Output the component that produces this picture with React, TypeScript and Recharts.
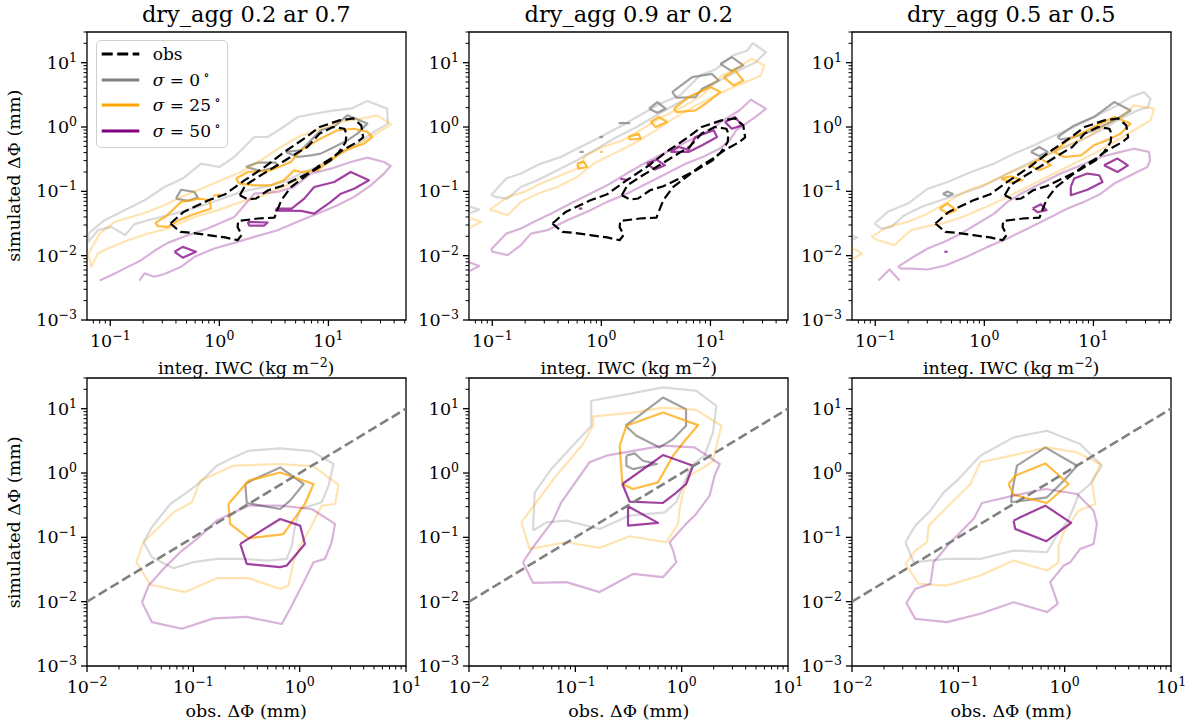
import React from 'react';
import { ComposedChart, Line, XAxis, YAxis, ReferenceArea, Legend } from 'recharts';

type Pt = [number, number];

// --- obs contours (same in all top panels) ---
const obsOuter: Pt[] = [[0.356,0.0316],[0.471,0.0479],[0.794,0.0728],[1.13,0.09],[1.71,0.149],[2.6,0.239],[4.15,0.435],[6.3,0.7],[8.3,1.0],[12.6,1.27],[16.9,1.36],[20,1.06],[20.8,0.69],[18.4,0.585],[13.4,0.435],[10.5,0.323],[7.9,0.239],[6.0,0.167],[4.5,0.115],[3.7,0.0728],[3.3,0.045],[3.2,0.039],[2.26,0.0378],[1.49,0.0347],[1.47,0.028],[1.6,0.0209],[1.47,0.0174],[1.13,0.0192],[0.79,0.0209],[0.56,0.0226],[0.44,0.0234]];
const obsInner: Pt[] = [[1.54,0.087],[1.73,0.124],[2.26,0.167],[3.2,0.239],[4.5,0.342],[6.4,0.49],[8.3,0.79],[11,1.0],[14,0.94],[14.6,0.79],[14.4,0.585],[12.5,0.41],[10.5,0.304],[7.4,0.213],[5.2,0.158],[3.7,0.12],[2.8,0.104],[2.18,0.0775],[1.84,0.0746]];

// --- top left: dry_agg 0.2 ar 0.7 ---
const p1GrayOuter: Pt[] = [[0.063,0.022],[0.0887,0.0356],[0.135,0.051],[0.206,0.0728],[0.314,0.117],[0.462,0.158],[0.68,0.27],[1.0,0.239],[1.37,0.342],[2.09,0.7],[2.77,0.7],[3.66,0.94],[5.2,1.43],[7.4,1.61],[11.3,1.81],[16,1.93],[22.7,2.53],[34.6,1.93],[35,1.13],[26,0.84],[18.4,0.55],[12.1,0.363],[7.9,0.239],[5.6,0.189],[3.9,0.14],[2.58,0.117],[1.58,0.098],[0.97,0.0728],[0.634,0.057],[0.388,0.045],[0.221,0.0356],[0.167,0.0309],[0.137,0.0209],[0.102,0.028],[0.077,0.0249],[0.063,0.0164]];
const p1GrayIn1: Pt[] = [[0.4,0.077],[0.446,0.106],[0.59,0.098],[0.634,0.08],[0.513,0.071]];
const p1GrayIn2: Pt[] = [[1.75,0.239],[2.24,0.279],[3.3,0.279],[3.37,0.239],[2.4,0.207]];
const p1GrayIn3: Pt[] = [[4.07,0.41],[5.6,0.435],[6.9,0.62],[8.5,0.89],[11.3,1.02],[14.9,1.52],[22.7,1.13],[18.4,0.79],[14.9,0.62],[11.3,0.49],[8.5,0.386],[6.9,0.363],[5.2,0.342]];
const p1OrangeOuter: Pt[] = [[0.063,0.0108],[0.08,0.022],[0.11,0.0336],[0.156,0.04],[0.221,0.048],[0.314,0.0608],[0.446,0.082],[0.68,0.11],[1.04,0.149],[1.58,0.2],[2.4,0.304],[3.66,0.49],[5.6,0.74],[8.5,0.94],[13,1.2],[19.8,1.35],[28,1.52],[37.7,1.1],[32.3,0.94],[24.4,0.7],[17.2,0.49],[11.3,0.342],[7.9,0.239],[5.6,0.167],[3.9,0.117],[2.58,0.087],[1.58,0.0686],[0.97,0.051],[0.59,0.04],[0.337,0.0264],[0.221,0.022],[0.145,0.0174],[0.095,0.0129],[0.077,0.0108],[0.067,0.0067]];
const p1OrangeIn1: Pt[] = [[0.258,0.0324],[0.325,0.041],[0.446,0.0686],[0.656,0.077],[0.81,0.0728],[0.84,0.054],[0.55,0.0426],[0.416,0.0348],[0.337,0.028],[0.273,0.0287]];
const p1OrangeIn2: Pt[] = [[1.42,0.158],[1.82,0.2],[2.97,0.212],[4.52,0.286],[5.6,0.435],[7.9,0.62],[12.1,0.89],[17.2,0.94],[22.7,0.84],[25.2,0.7],[21.2,0.55],[13.9,0.435],[10.5,0.304],[7.9,0.212],[5.6,0.2],[4.85,0.212],[3.9,0.149],[2.97,0.124],[2.09,0.124],[1.52,0.132]];
const p1OrangeIn3: Pt[] = [[0.88,0.085],[1.02,0.09]];
const p1PurpleOuter: Pt[] = [[0.08,0.0041],[0.11,0.0053],[0.145,0.0067],[0.192,0.0085],[0.254,0.0119],[0.337,0.0158],[0.513,0.0208],[0.78,0.0264],[1.37,0.04],[2.09,0.092],[3.42,0.098],[4.85,0.117],[6.9,0.189],[10.5,0.225],[16,0.286],[22.7,0.334],[32.3,0.286],[37.2,0.248],[32.3,0.189],[24.4,0.124],[17.2,0.082],[12.1,0.0608],[7.9,0.045],[5.2,0.0336],[3.42,0.0249],[2.09,0.0196],[1.37,0.0158],[0.9,0.0129],[0.59,0.0096],[0.446,0.0067],[0.314,0.0052],[0.254,0.0047],[0.206,0.0053],[0.185,0.0041]];
const p1PurpleIn1: Pt[] = [[0.388,0.0115],[0.462,0.0137],[0.61,0.0115],[0.462,0.0093]];
const p1PurpleIn2: Pt[] = [[1.82,0.0336],[2.77,0.0328],[2.58,0.0294],[1.88,0.0294]];
const p1PurpleIn3: Pt[] = [[3.3,0.054],[4.6,0.054],[6.0,0.077],[7.4,0.117],[11.3,0.14],[16,0.2],[23.5,0.149],[17.2,0.11],[13,0.092],[10.5,0.0686],[7.4,0.045],[5.6,0.0497],[3.3,0.05]];

// --- top middle: dry_agg 0.9 ar 0.2 ---
const p2GrayOuter: Pt[] = [[0.0975,0.087],[0.134,0.158],[0.183,0.189],[0.279,0.27],[0.424,0.342],[0.644,0.49],[0.98,0.7],[1.49,1.02],[2.26,1.52],[3.44,2.3],[5.24,3.1],[8.0,6.3],[11.3,8.0],[16,12.9],[21.9,15.5],[24.4,20.1],[32.2,14.6],[26.1,10.2],[18.4,7.6],[12.1,5.3],[8.0,3.5],[4.9,2.3],[3.2,1.52],[2.11,1.0],[1.39,0.7],[0.91,0.46],[0.6,0.304],[0.395,0.212],[0.26,0.149],[0.183,0.117],[0.138,0.077],[0.108,0.082]];
const p2GrayEdge: Pt[] = [[0.06,0.0587],[0.076,0.052],[0.06,0.045]];
const p2GrayIn1: Pt[] = [[2.74,1.93],[3.26,2.44],[3.88,1.93],[3.26,1.67]];
const p2GrayIn2: Pt[] = [[4.46,3.49],[6.8,5.97],[10.3,6.7],[11.9,5.3],[8.4,3.94],[7.3,2.92],[4.89,2.85]];
const p2GrayIn3: Pt[] = [[12.3,9.6],[15.7,12.2],[20,9.1],[15.7,7.4]];
const p2GrayIn4: Pt[] = [[1.44,1.15],[1.84,1.15]];
const p2GrayIn5: Pt[] = [[0.96,0.7],[1.04,0.7]];
const p2GrayIn6: Pt[] = [[0.63,0.41],[0.69,0.41]];
const p2OrangeOuter: Pt[] = [[0.094,0.051],[0.138,0.082],[0.196,0.098],[0.279,0.132],[0.424,0.178],[0.6,0.225],[0.724,0.363],[1.03,0.49],[1.56,0.62],[2.38,0.94],[3.6,1.43],[5.5,2.04],[8.4,3.1],[12.7,6.3],[18,8.5],[23.9,11.5],[31.1,9.1],[29,6.3],[21.2,5.0],[15,3.94],[10.5,2.92],[6.9,2.04],[4.56,1.35],[3.0,0.84],[1.97,0.55],[1.3,0.386],[0.85,0.27],[0.6,0.167],[0.395,0.117],[0.26,0.092],[0.183,0.0686],[0.138,0.0426],[0.105,0.0497]];
const p2OrangeEdge: Pt[] = [[0.06,0.039],[0.079,0.0336],[0.06,0.0264]];
const p2OrangeIn1: Pt[] = [[0.6,0.27],[0.69,0.29],[0.74,0.239],[0.62,0.225]];
const p2OrangeIn2: Pt[] = [[1.77,0.7],[2.19,0.79],[2.3,0.66],[1.84,0.64]];
const p2OrangeIn3: Pt[] = [[2.83,1.2],[3.37,1.43],[4.0,1.2],[3.15,1.0]];
const p2OrangeIn4: Pt[] = [[4.62,1.93],[6.3,2.92],[9.96,4.18],[12.3,3.49],[9.0,2.3],[7.3,1.81],[4.89,1.71]];
const p2OrangeIn5: Pt[] = [[13.2,5.97],[16.8,7.6],[20,5.3],[16.3,4.43]];
const p2OrangeIn6: Pt[] = [[0.98,0.41],[1.03,0.41]];
const p2PurpleOuter: Pt[] = [[0.0975,0.0125],[0.134,0.022],[0.183,0.0264],[0.242,0.0336],[0.344,0.045],[0.487,0.0608],[0.74,0.087],[1.13,0.124],[1.71,0.189],[2.61,0.286],[3.96,0.41],[6.0,0.585],[9.2,0.84],[13.9,1.35],[18.4,1.81],[23.5,2.66],[32.2,1.93],[27.1,1.52],[21.2,1.13],[17.2,0.89],[15,0.62],[12.1,0.46],[8.5,0.342],[6.0,0.27],[3.96,0.189],[2.61,0.132],[1.71,0.092],[1.13,0.0686],[0.74,0.048],[0.487,0.0356],[0.32,0.0249],[0.226,0.022],[0.183,0.0146],[0.138,0.0102],[0.101,0.0115]];
const p2PurpleEdge: Pt[] = [[0.06,0.008],[0.076,0.0069],[0.06,0.0056]];
const p2PurpleIn1: Pt[] = [[0.62,0.054],[0.67,0.054]];
const p2PurpleIn2: Pt[] = [[1.49,0.158],[1.77,0.149]];
const p2PurpleIn3: Pt[] = [[2.61,0.27],[3.21,0.311],[3.83,0.254],[3.1,0.218]];
const p2PurpleIn4: Pt[] = [[4.3,0.41],[5.1,0.49],[6.3,0.445],[7.3,0.7],[10.7,0.89],[11.5,0.7],[8.4,0.52],[6.3,0.41]];
const p2PurpleIn5: Pt[] = [[13.6,1.2],[16.8,1.43],[19.4,1.06],[15.7,0.94]];

// --- top right: dry_agg 0.5 ar 0.5 ---
const p3GrayOuter: Pt[] = [[0.0986,0.0316],[0.13,0.048],[0.199,0.0646],[0.303,0.11],[0.462,0.14],[0.755,0.2],[1.23,0.27],[1.88,0.386],[2.86,0.52],[4.37,0.74],[6.65,1.0],[10.1,1.43],[15.5,2.04],[21.9,2.92],[29,3.49],[33.4,2.75],[31.6,2.04],[25.2,1.81],[17.8,1.35],[11.7,0.89],[7.7,0.62],[5.0,0.46],[3.3,0.342],[2.16,0.239],[1.42,0.167],[0.93,0.117],[0.61,0.092],[0.4,0.0728],[0.264,0.0573],[0.185,0.0426],[0.14,0.028],[0.114,0.0264]];
const p3GrayEdge: Pt[] = [[0.06,0.0209],[0.068,0.0192],[0.06,0.0174]];
const p3GrayIn1: Pt[] = [[0.416,0.092],[0.462,0.099],[0.513,0.091],[0.462,0.084]];
const p3GrayIn2: Pt[] = [[2.67,0.41],[3.19,0.49],[3.8,0.41],[3.19,0.355]];
const p3GrayIn3: Pt[] = [[4.69,0.7],[6.65,1.06],[10.1,1.43],[15.5,2.44],[21.9,1.81],[15.5,1.27],[10.1,0.89],[6.65,0.7],[5.0,0.64]];
const p3OrangeOuter: Pt[] = [[0.092,0.0196],[0.13,0.028],[0.199,0.0336],[0.303,0.045],[0.462,0.0686],[0.705,0.104],[1.07,0.132],[1.63,0.189],[2.49,0.254],[3.8,0.363],[5.8,0.52],[8.8,0.7],[13.4,1.13],[19,1.52],[23.5,2.17],[35.9,1.93],[33.4,1.27],[23.5,0.89],[15.5,0.585],[10.1,0.386],[6.65,0.27],[4.37,0.189],[2.67,0.124],[1.63,0.082],[1.07,0.0587],[0.656,0.041],[0.43,0.0324],[0.282,0.028],[0.213,0.0249],[0.15,0.0146],[0.106,0.0174]];
const p3OrangeEdge: Pt[] = [[0.06,0.0137],[0.0755,0.0108],[0.06,0.0085]];
const p3OrangeIn1: Pt[] = [[0.388,0.054],[0.462,0.0646],[0.55,0.051],[0.462,0.045]];
const p3OrangeIn2: Pt[] = [[1.42,0.158],[1.75,0.171],[2.24,0.149],[1.75,0.138]];
const p3OrangeIn3: Pt[] = [[2.58,0.254],[3.3,0.323],[4.07,0.254],[3.19,0.212]];
const p3OrangeIn4: Pt[] = [[4.37,0.41],[5.8,0.62],[10.1,1.0],[15.5,1.43],[21.9,1.13],[17.8,0.79],[14.4,0.66],[10.1,0.52],[7.7,0.363],[5.4,0.342]];
const p3PurpleOuter: Pt[] = [[0.161,0.0067],[0.213,0.0091],[0.303,0.0129],[0.43,0.0164],[0.61,0.022],[0.87,0.0316],[1.23,0.045],[1.63,0.0686],[2.16,0.092],[3.3,0.132],[5.0,0.189],[7.7,0.254],[11.7,0.342],[17.8,0.41],[23.5,0.46],[32.3,0.41],[33,0.304],[31.2,0.239],[21.9,0.178],[15.5,0.132],[11.7,0.092],[8.2,0.0686],[5.8,0.054],[4.07,0.04],[2.67,0.028],[1.63,0.0185],[1.07,0.0137],[0.705,0.0098],[0.446,0.0071],[0.303,0.0061],[0.213,0.0063],[0.173,0.0063]];
const p3PurpleEdge: Pt[] = [[0.107,0.0041],[0.135,0.0061],[0.167,0.0041]];
const p3PurpleIn1: Pt[] = [[0.43,0.0115],[0.46,0.0115]];
const p3PurpleIn2: Pt[] = [[2.77,0.054],[3.3,0.063],[3.72,0.051],[3.07,0.0474]];
const p3PurpleIn3: Pt[] = [[6.2,0.117],[6.65,0.158],[8.8,0.189],[11.3,0.178],[12.1,0.14],[8.8,0.106],[6.2,0.087]];
const p3PurpleIn4: Pt[] = [[12.5,0.254],[16.6,0.323],[20.7,0.254],[16.6,0.2]];

// --- bottom left ---
const p4GrayOuter: Pt[] = [[0.034,0.084],[0.0408,0.144],[0.0607,0.33],[0.087,0.5],[0.116,0.716],[0.166,1.3],[0.239,1.75],[0.33,2.22],[0.655,2.42],[1.3,2.19],[2.08,1.38],[1.87,0.636],[1.61,0.351],[1.01,0.276],[0.906,0.152],[0.843,0.0745],[0.757,0.0463],[0.491,0.0436],[0.296,0.0463],[0.166,0.0463],[0.1,0.0411],[0.0652,0.0332],[0.0408,0.0491]];
const p4GrayIn: Pt[] = [[0.308,0.675],[0.368,0.79],[0.655,1.22],[1.09,0.675],[0.813,0.372],[0.655,0.276],[0.318,0.342]];
const p4OrangeOuter: Pt[] = [[0.0291,0.0411],[0.034,0.084],[0.0455,0.135],[0.0652,0.245],[0.097,0.351],[0.116,0.76],[0.239,1.3],[0.655,1.38],[1.35,1.27],[2.32,0.652],[2.15,0.33],[1.61,0.311],[1.25,0.135],[1.01,0.0745],[0.875,0.0411],[0.785,0.0178],[0.655,0.0158],[0.33,0.0232],[0.166,0.0232],[0.084,0.0141],[0.0394,0.0183]];
const p4OrangeIn: Pt[] = [[0.214,0.33],[0.33,0.76],[0.655,1.02],[1.35,0.675],[1.12,0.33],[0.705,0.113],[0.655,0.11],[0.33,0.0968],[0.222,0.162]];
const p4PurpleOuter: Pt[] = [[0.0329,0.0098],[0.038,0.0178],[0.0525,0.0324],[0.0753,0.0587],[0.108,0.0946],[0.166,0.182],[0.33,0.311],[0.655,0.311],[1.3,0.276],[2.15,0.162],[2.0,0.084],[1.73,0.0463],[1.35,0.0411],[1.09,0.0201],[0.843,0.0087],[0.68,0.0045],[0.318,0.0058],[0.155,0.0055],[0.078,0.0038],[0.0408,0.0048]];
const p4PurpleIn: Pt[] = [[0.276,0.079],[0.655,0.193],[1.01,0.152],[1.12,0.079],[0.757,0.0365],[0.655,0.0344],[0.318,0.0387]];

// --- bottom middle ---
const p5GrayOuter: Pt[] = [[0.04,0.127],[0.0415,0.5],[0.0594,1.15],[0.0853,2.22],[0.141,5.4],[0.141,13.3],[0.313,16.8],[0.667,21.4],[1.37,19],[2.12,11.1],[1.97,4.28],[1.64,1.86],[1.23,1.3],[1.03,0.636],[0.89,0.351],[0.692,0.245],[0.324,0.218],[0.169,0.135],[0.0822,0.182],[0.0533,0.171]];
const p5GrayIn1: Pt[] = [[0.297,5.43],[0.667,14.9],[1.1,9.8],[1.1,5.43],[0.83,3.37],[0.62,2.5],[0.375,3.8]];
const p5GrayIn2: Pt[] = [[0.302,1.86],[0.361,2.02],[0.433,1.55],[0.586,1.38],[0.349,1.15],[0.302,1.3]];
const p5OrangeOuter: Pt[] = [[0.031,0.171],[0.043,0.351],[0.0662,0.91],[0.0822,1.38],[0.118,2.82],[0.147,5.43],[0.147,7.6],[0.349,8.7],[0.667,10.4],[1.37,9.6],[2.36,5.43],[1.97,1.55],[1.71,1.3],[1.19,0.91],[1.03,0.5],[0.957,0.276],[0.925,0.162],[0.718,0.084],[0.324,0.104],[0.169,0.0686],[0.0822,0.084],[0.0372,0.0662]];
const p5OrangeIn: Pt[] = [[0.261,2.66],[0.302,5.43],[0.667,8.7],[1.43,5.56],[1.07,3.18],[0.83,1.86],[0.599,0.716],[0.349,0.565],[0.277,0.675]];
const p5PurpleOuter: Pt[] = [[0.0322,0.0411],[0.04,0.0702],[0.0617,0.182],[0.0738,0.351],[0.136,1.47],[0.196,1.86],[0.667,2.66],[1.32,2.5],[2.28,1.38],[2.04,0.91],[1.83,0.445],[1.37,0.231],[1.1,0.162],[0.771,0.084],[0.83,0.0623],[0.89,0.0411],[0.667,0.024],[0.349,0.027],[0.169,0.0141],[0.0822,0.0201],[0.04,0.0196]];
const p5PurpleIn1: Pt[] = [[0.277,0.675],[0.667,1.9],[1.28,1.3],[1.1,0.675],[0.86,0.472],[0.667,0.342],[0.324,0.359]];
const p5PurpleIn2: Pt[] = [[0.313,0.304],[0.313,0.152],[0.599,0.168]];

// --- bottom right ---
const p6GrayOuter: Pt[] = [[0.0318,0.084],[0.0394,0.152],[0.0546,0.26],[0.0728,0.5],[0.097,0.76],[0.161,1.86],[0.331,3.58],[0.682,4.54],[1.4,2.82],[2.24,1.3],[1.74,0.675],[1.35,0.472],[1.22,0.293],[1.05,0.171],[0.879,0.12],[0.682,0.0587],[0.331,0.0623],[0.161,0.0463],[0.0782,0.0463],[0.038,0.0411]];
const p6GrayIn: Pt[] = [[0.313,0.351],[0.32,0.5],[0.356,1.3],[0.658,2.5],[1.31,1.3],[0.98,0.76],[0.682,0.419]];
const p6OrangeOuter: Pt[] = [[0.0318,0.0387],[0.0394,0.0623],[0.0507,0.084],[0.0526,0.152],[0.0841,0.33],[0.13,0.675],[0.161,1.47],[0.331,1.9],[0.682,2.5],[1.31,2.09],[2.16,1.38],[1.81,0.716],[1.94,0.33],[1.35,0.26],[0.98,0.12],[0.879,0.0745],[0.879,0.0411],[0.682,0.0305],[0.331,0.0436],[0.161,0.0255],[0.0782,0.0178],[0.0424,0.0189]];
const p6OrangeIn: Pt[] = [[0.297,0.675],[0.343,0.91],[0.658,1.41],[1.09,0.675],[0.682,0.342],[0.475,0.395],[0.331,0.461]];
const p6PurpleOuter: Pt[] = [[0.0324,0.0096],[0.0394,0.0158],[0.0546,0.0189],[0.0586,0.0411],[0.0841,0.084],[0.139,0.193],[0.167,0.342],[0.331,0.445],[0.658,0.565],[1.31,0.472],[1.87,0.26],[2.01,0.162],[1.87,0.079],[1.4,0.0662],[1.13,0.0411],[0.98,0.0365],[0.733,0.0201],[0.86,0.0093],[0.682,0.0069],[0.331,0.0098],[0.161,0.0065],[0.0782,0.0048],[0.0394,0.0054]];
const p6PurpleIn: Pt[] = [[0.331,0.182],[0.383,0.205],[0.658,0.311],[1.15,0.168],[0.673,0.087],[0.343,0.135]];

const oneToOne: Pt[] = [[0.01,0.01],[10,10]];

const titles = ['dry_agg 0.2 ar 0.7', 'dry_agg 0.9 ar 0.2', 'dry_agg 0.5 ar 0.5'];
const legendLabels = ['obs', '0', '25', '50'];

// axes
const topXDomain: [number, number] = [0.0612, 51.4];
const botXDomain: [number, number] = [0.01, 10];
const yDomain: [number, number] = [0.001, 30];
const decades = [0.001, 0.01, 0.1, 1, 10];
const minorMults = [1, 2, 3, 4, 5, 6, 7, 8, 9];

const GRAY = '#808080';
const ORANGE = '#ffa500';
const PURPLE = '#800080';
const LIGHT = 0.3;
const DARK = 0.75;
const SERIF = '"DejaVu Serif", serif';
const FS = 17.5;

const logTicks = (dom: [number, number]) =>
  decades.flatMap((d) => minorMults.map((m) => +(d * m).toPrecision(3))).filter((v) => v >= dom[0] - 1e-12 && v <= dom[1] + 1e-12);

const isMajor = (v: number) => Math.abs(Math.log10(v) - Math.round(Math.log10(v))) < 1e-6;
const expText = (v: number) => {
  const e = Math.round(Math.log10(v));
  return e < 0 ? '\u2212' + -e : String(e);
};

const XTick = (props: any) => {
  const { x, y, payload } = props;
  const major = isMajor(payload.value);
  return (
    <g>
      <line x1={x} y1={y} x2={x} y2={y + (major ? 6 : 3.5)} stroke="#000" strokeWidth={major ? 1.3 : 1} />
      {major && (
        <text x={x} y={y + 27} textAnchor="middle" fontFamily={SERIF} fontSize={FS} fill="#000">
          10<tspan dy={-7} fontSize={12.5}>{expText(payload.value)}</tspan>
        </text>
      )}
    </g>
  );
};

const YTick = (props: any) => {
  const { x, y, payload } = props;
  const major = isMajor(payload.value);
  return (
    <g>
      <line x1={x} y1={y} x2={x - (major ? 6 : 3.5)} y2={y} stroke="#000" strokeWidth={major ? 1.3 : 1} />
      {major && (
        <text x={x - 10} y={y + 6} textAnchor="end" fontFamily={SERIF} fontSize={FS} fill="#000">
          10<tspan dy={-7} fontSize={12.5}>{expText(payload.value)}</tspan>
        </text>
      )}
    </g>
  );
};

interface Series { pts: Pt[]; color: string; alpha: number; closed: boolean; dash?: string; width?: number }
const c = (pts: Pt[], color: string, alpha: number, closed = true): Series => ({ pts, color, alpha, closed });
const obsSeries: Series[] = [
  { pts: obsOuter, color: '#000', alpha: 1, closed: true, dash: '9.5 4.2' },
  { pts: obsInner, color: '#000', alpha: 1, closed: true, dash: '9.5 4.2' },
];
const diagSeries: Series = { pts: oneToOne, color: GRAY, alpha: 1, closed: false, dash: '9.5 4.2', width: 2.6 };

const PL = [86.7, 469.3, 851.7];
const TOP_T = 31.7;
const BOT_T = 378.3;
const PW = 319;
const PH = 288;

const panels = [
  { left: PL[0], top: TOP_T, row: 'top', series: [
    c(p1GrayOuter, GRAY, LIGHT), c(p1GrayIn1, GRAY, DARK), c(p1GrayIn2, GRAY, DARK), c(p1GrayIn3, GRAY, DARK),
    c(p1OrangeOuter, ORANGE, LIGHT), c(p1OrangeIn1, ORANGE, DARK), c(p1OrangeIn2, ORANGE, DARK), c(p1OrangeIn3, ORANGE, DARK, false),
    c(p1PurpleOuter, PURPLE, LIGHT, false), c(p1PurpleIn1, PURPLE, DARK), c(p1PurpleIn2, PURPLE, DARK), c(p1PurpleIn3, PURPLE, DARK),
    ...obsSeries] },
  { left: PL[1], top: TOP_T, row: 'top', series: [
    c(p2GrayOuter, GRAY, LIGHT), c(p2GrayEdge, GRAY, LIGHT, false), c(p2GrayIn1, GRAY, DARK), c(p2GrayIn2, GRAY, DARK), c(p2GrayIn3, GRAY, DARK),
    c(p2GrayIn4, GRAY, DARK, false), c(p2GrayIn5, GRAY, DARK, false), c(p2GrayIn6, GRAY, DARK, false),
    c(p2OrangeOuter, ORANGE, LIGHT), c(p2OrangeEdge, ORANGE, LIGHT, false), c(p2OrangeIn1, ORANGE, DARK), c(p2OrangeIn2, ORANGE, DARK),
    c(p2OrangeIn3, ORANGE, DARK), c(p2OrangeIn4, ORANGE, DARK), c(p2OrangeIn5, ORANGE, DARK), c(p2OrangeIn6, ORANGE, DARK, false),
    c(p2PurpleOuter, PURPLE, LIGHT), c(p2PurpleEdge, PURPLE, LIGHT, false), c(p2PurpleIn1, PURPLE, DARK, false), c(p2PurpleIn2, PURPLE, DARK, false),
    c(p2PurpleIn3, PURPLE, DARK), c(p2PurpleIn4, PURPLE, DARK), c(p2PurpleIn5, PURPLE, DARK),
    ...obsSeries] },
  { left: PL[2], top: TOP_T, row: 'top', series: [
    c(p3GrayOuter, GRAY, LIGHT), c(p3GrayEdge, GRAY, LIGHT, false), c(p3GrayIn1, GRAY, DARK), c(p3GrayIn2, GRAY, DARK), c(p3GrayIn3, GRAY, DARK),
    c(p3OrangeOuter, ORANGE, LIGHT), c(p3OrangeEdge, ORANGE, LIGHT, false), c(p3OrangeIn1, ORANGE, DARK), c(p3OrangeIn2, ORANGE, DARK),
    c(p3OrangeIn3, ORANGE, DARK), c(p3OrangeIn4, ORANGE, DARK),
    c(p3PurpleOuter, PURPLE, LIGHT), c(p3PurpleEdge, PURPLE, LIGHT, false), c(p3PurpleIn1, PURPLE, DARK, false), c(p3PurpleIn2, PURPLE, DARK),
    c(p3PurpleIn3, PURPLE, DARK), c(p3PurpleIn4, PURPLE, DARK),
    ...obsSeries] },
  { left: PL[0], top: BOT_T, row: 'bottom', series: [
    c(p4GrayOuter, GRAY, LIGHT), c(p4GrayIn, GRAY, DARK), c(p4OrangeOuter, ORANGE, LIGHT), c(p4OrangeIn, ORANGE, DARK),
    c(p4PurpleOuter, PURPLE, LIGHT), c(p4PurpleIn, PURPLE, DARK), diagSeries] },
  { left: PL[1], top: BOT_T, row: 'bottom', series: [
    c(p5GrayOuter, GRAY, LIGHT), c(p5GrayIn1, GRAY, DARK), c(p5GrayIn2, GRAY, DARK), c(p5OrangeOuter, ORANGE, LIGHT), c(p5OrangeIn, ORANGE, DARK),
    c(p5PurpleOuter, PURPLE, LIGHT), c(p5PurpleIn1, PURPLE, DARK), c(p5PurpleIn2, PURPLE, DARK), diagSeries] },
  { left: PL[2], top: BOT_T, row: 'bottom', series: [
    c(p6GrayOuter, GRAY, LIGHT), c(p6GrayIn, GRAY, DARK), c(p6OrangeOuter, ORANGE, LIGHT), c(p6OrangeIn, ORANGE, DARK),
    c(p6PurpleOuter, PURPLE, LIGHT), c(p6PurpleIn, PURPLE, DARK), diagSeries] },
];

const toRows = (s: Series) => (s.closed ? [...s.pts, s.pts[0]] : s.pts).map(([x, y]) => ({ x, y }));

const LegendBox = () => {
  const rows = [14, 40, 65, 91];
  const colors = ['#000', GRAY, ORANGE, PURPLE];
  return (
    <div style={{ width: 132, height: 108, boxSizing: 'border-box', border: '1px solid #d0d0d0', borderRadius: 5, background: 'rgba(255,255,255,0.8)' }}>
      <svg width={132} height={108} style={{ position: 'absolute', left: 0, top: 0 }}>
        {legendLabels.map((lab, i) => (
          <g key={lab}>
            <line x1={5.7} x2={43.3} y1={rows[i]} y2={rows[i]} stroke={colors[i]} strokeWidth={3} strokeDasharray={i === 0 ? '11 4.5' : undefined} />
            <text x={56.7} y={rows[i] + 6} fontFamily={SERIF} fontSize={17} fill="#000">
              {i === 0 ? 'obs' : (
                <>
                  <tspan fontStyle="italic">σ</tspan>
                  {' = ' + lab + '\u2009'}
                  <tspan dy={-7} fontSize={12}>∘</tspan>
                </>
              )}
            </text>
          </g>
        ))}
      </svg>
    </div>
  );
};

const Panel = ({ p, idx }: { p: (typeof panels)[number]; idx: number }) => {
  const xDom = p.row === 'top' ? topXDomain : botXDomain;
  return (
    <div style={{ position: 'absolute', left: p.left - 70, top: p.top - 40 }}>
      <ComposedChart width={70 + PW + 20} height={40 + PH + 60} margin={{ top: 40, right: 20, bottom: 0, left: 0 }}>
        <XAxis dataKey="x" type="number" scale="log" domain={xDom} allowDataOverflow ticks={logTicks(xDom)} interval={0}
          tick={<XTick />} tickLine={false} tickSize={0} tickMargin={0} axisLine={false} height={60} />
        <YAxis type="number" scale="log" domain={yDomain} allowDataOverflow ticks={logTicks(yDomain)} interval={0}
          tick={<YTick />} tickLine={false} tickSize={0} tickMargin={0} axisLine={false} width={70} />
        {p.series.map((s, i) => (
          <Line key={i} data={toRows(s)} dataKey="y" type="linear" stroke={s.color} strokeOpacity={s.alpha}
            strokeWidth={s.width ?? 2.2} strokeDasharray={s.dash} strokeLinejoin="round" dot={false} activeDot={false}
            isAnimationActive={false} legendType="none" />
        ))}
        <ReferenceArea x1={xDom[0]} x2={xDom[1]} y1={yDomain[0]} y2={yDomain[1]} fill="none" fillOpacity={0} stroke="#000" strokeWidth={1.3} ifOverflow="visible" />
        {idx === 0 && (
          <Legend layout="vertical" align="center" verticalAlign="middle" content={() => <LegendBox />}
            wrapperStyle={{ position: 'absolute', left: 79.3, top: 48.3, width: 132, height: 108 }} />
        )}
      </ComposedChart>
    </div>
  );
};

export default function App() {
  return (
    <div style={{ position: 'absolute', left: 0, top: 0, width: 1195, height: 727, background: '#fff', overflow: 'hidden' }}>
      {panels.map((p, i) => <Panel key={i} p={p} idx={i} />)}
      <svg width={1195} height={727} style={{ position: 'absolute', left: 0, top: 0, pointerEvents: 'none' }}>
        {titles.map((t, i) => (
          <text key={t} x={PL[i] + PW / 2} y={21.5} textAnchor="middle" fontFamily={SERIF} fontSize={22.5} fill="#000">{t}</text>
        ))}
        {PL.map((l, i) => (
          <text key={'xl' + i} x={l + PW / 2} y={373.5} textAnchor="middle" fontFamily={SERIF} fontSize={FS} fill="#000">
            integ. IWC (kg m<tspan dy={-7} fontSize={12.5}>{'\u22122'}</tspan><tspan dy={7}>)</tspan>
          </text>
        ))}
        {PL.map((l, i) => (
          <text key={'bl' + i} x={l + PW / 2} y={716.5} textAnchor="middle" fontFamily={SERIF} fontSize={FS} fill="#000">obs. ΔΦ (mm)</text>
        ))}
        {[TOP_T, BOT_T].map((t, i) => (
          <text key={'yl' + i} transform={`translate(20,${t + PH / 2}) rotate(-90)`} textAnchor="middle" fontFamily={SERIF} fontSize={FS} fill="#000">simulated ΔΦ (mm)</text>
        ))}
      </svg>
    </div>
  );
}
